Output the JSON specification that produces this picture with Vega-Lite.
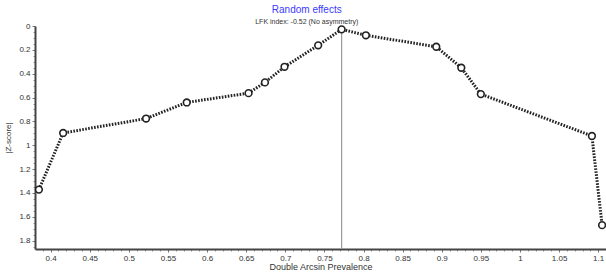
{
  "$schema": "https://vega.github.io/schema/vega-lite/v6.json",
  "autosize": {"type": "none"},
  "width": 571,
  "height": 223,
  "padding": {"left": 35, "top": 26, "right": 0, "bottom": 25},
  "background": "white",
  "config": {"view": {"stroke": null}, "font": "Liberation Sans"},
  "title": {
    "text": "Random effects",
    "subtitle": "LFK index: -0.52 (No asymmetry)",
    "color": "#3a3aff",
    "fontSize": 10,
    "fontWeight": "normal",
    "subtitleFontSize": 7,
    "subtitleColor": "#333333",
    "subtitlePadding": 3,
    "anchor": "middle",
    "offset": -3,
    "frame": "bounds"
  },
  "datasets": {
    "pts": [
      {"x": 0.385, "z": 1.372},
      {"x": 0.416, "z": 0.897},
      {"x": 0.522, "z": 0.776},
      {"x": 0.574, "z": 0.641},
      {"x": 0.653, "z": 0.563},
      {"x": 0.674, "z": 0.473},
      {"x": 0.699, "z": 0.342},
      {"x": 0.742, "z": 0.162},
      {"x": 0.772, "z": 0.028},
      {"x": 0.803, "z": 0.078},
      {"x": 0.893, "z": 0.174},
      {"x": 0.925, "z": 0.350},
      {"x": 0.950, "z": 0.571},
      {"x": 1.092, "z": 0.922},
      {"x": 1.105, "z": 1.670}
    ],
    "vline": [{"x": 0.772, "z": 0.028, "z2": 1.87}]
  },
  "resolve": {"axis": {"x": "independent", "y": "independent"}},
  "layer": [
    {
      "data": {"name": "vline"},
      "mark": {"type": "rule", "color": "#999999", "strokeWidth": 1.2},
      "encoding": {
        "x": {
          "field": "x",
          "type": "quantitative",
          "scale": {"domain": [0.38, 1.11], "nice": false, "zero": false},
          "axis": {
            "orient": "bottom",
            "title": null,
            "labels": false,
            "domain": false,
            "grid": false,
            "values": [0.39,0.41,0.42,0.43,0.44,0.46,0.47,0.48,0.49,0.51,0.52,0.53,0.54,0.56,0.57,0.58,0.59,0.61,0.62,0.63,0.64,0.66,0.67,0.68,0.69,0.71,0.72,0.73,0.74,0.76,0.77,0.78,0.79,0.81,0.82,0.83,0.84,0.86,0.87,0.88,0.89,0.91,0.92,0.93,0.94,0.96,0.97,0.98,0.99,1.01,1.02,1.03,1.04,1.06,1.07,1.08,1.09],
            "tickSize": 2,
            "tickColor": "#999999"
          }
        },
        "y": {
          "field": "z",
          "type": "quantitative",
          "scale": {"domain": [0, 1.87], "reverse": true, "nice": false, "zero": false},
          "axis": {
            "orient": "left",
            "title": null,
            "labels": false,
            "domain": false,
            "grid": false,
            "values": [0.05,0.1,0.15,0.25,0.3,0.35,0.45,0.5,0.55,0.65,0.7,0.75,0.85,0.9,0.95,1.05,1.1,1.15,1.25,1.3,1.35,1.45,1.5,1.55,1.65,1.7,1.75,1.85],
            "tickSize": 2,
            "tickColor": "#999999"
          }
        },
        "y2": {"field": "z2"}
      }
    },
    {
      "data": {"name": "pts"},
      "mark": {"type": "line", "color": "#222222", "strokeWidth": 3, "strokeDash": [1.6, 1.4]},
      "encoding": {
        "x": {
          "field": "x",
          "type": "quantitative",
          "axis": {
            "orient": "bottom",
            "title": "Double Arcsin Prevalence",
            "titleFontSize": 9,
            "titleFontWeight": "normal",
            "titleColor": "#333333",
            "titlePadding": 0,
            "values": [0.4,0.45,0.5,0.55,0.6,0.65,0.7,0.75,0.8,0.85,0.9,0.95,1,1.05,1.1],
            "format": "~g",
            "labelOverlap": false,
            "labelFlush": false,
            "labelFontSize": 8,
            "labelColor": "#333333",
            "labelPadding": 2,
            "tickSize": 3,
            "tickColor": "#777777",
            "domainColor": "#444444",
            "domainWidth": 2,
            "grid": false
          }
        },
        "y": {
          "field": "z",
          "type": "quantitative",
          "axis": {
            "orient": "left",
            "title": "|Z-score|",
            "titleFontSize": 8,
            "titleFontWeight": "normal",
            "titleColor": "#333333",
            "titlePadding": 6,
            "values": [0,0.2,0.4,0.6,0.8,1,1.2,1.4,1.6,1.8],
            "format": "~g",
            "labelOverlap": false,
            "labelFlush": false,
            "labelFontSize": 8,
            "labelColor": "#333333",
            "labelPadding": 2,
            "tickSize": 3,
            "tickColor": "#777777",
            "domainColor": "#444444",
            "domainWidth": 2,
            "grid": false
          }
        }
      }
    },
    {
      "data": {"name": "pts"},
      "mark": {"type": "point", "shape": "circle", "filled": true, "fill": "white", "stroke": "#222222", "strokeWidth": 1.6, "size": 45, "opacity": 1},
      "encoding": {
        "x": {"field": "x", "type": "quantitative", "axis": null},
        "y": {"field": "z", "type": "quantitative", "axis": null}
      }
    }
  ]
}
